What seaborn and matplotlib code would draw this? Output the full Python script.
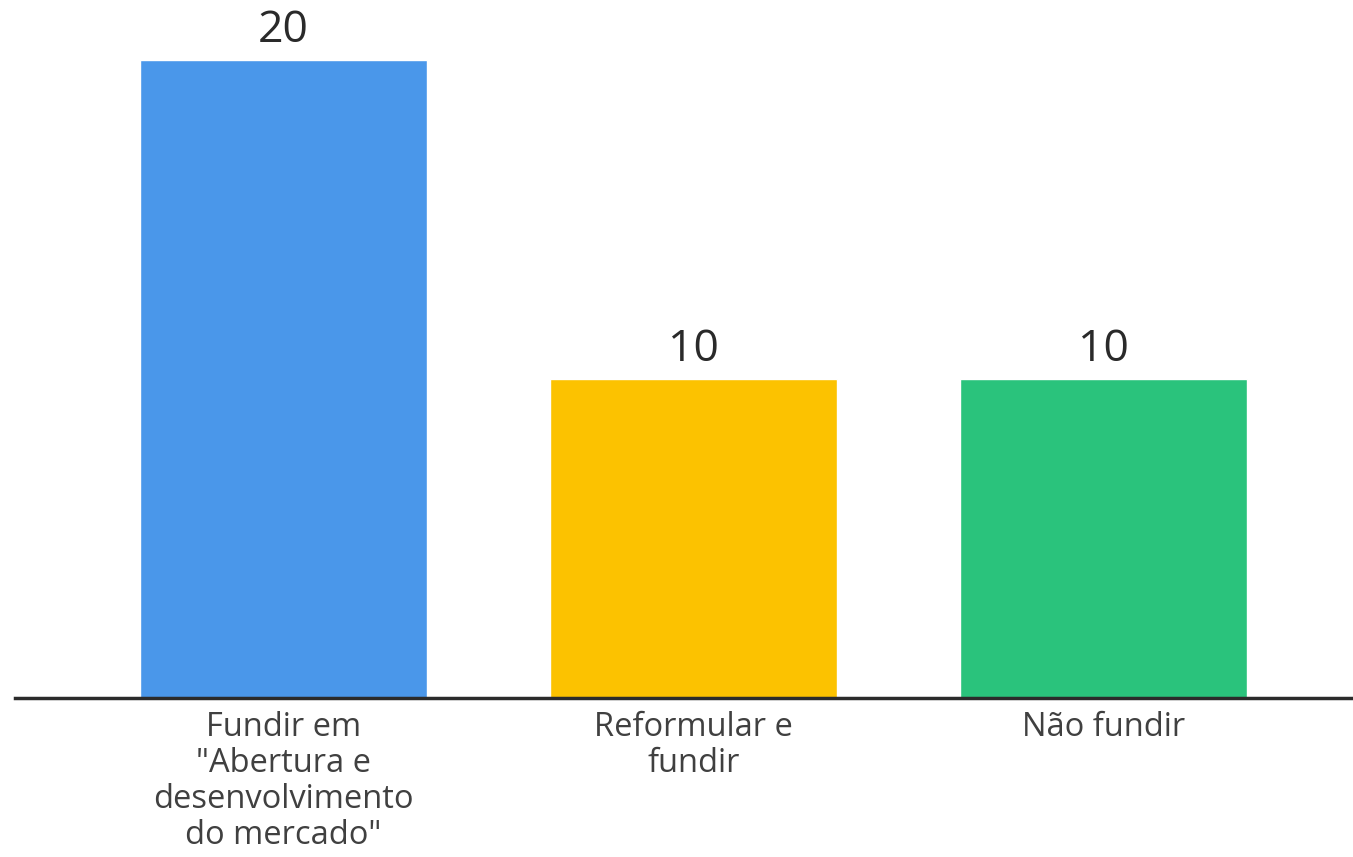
import matplotlib
matplotlib.use("Agg")
import matplotlib.pyplot as plt
import seaborn as sns
import pandas as pd

categories = ['Fundir em\n"Abertura e\ndesenvolvimento\ndo mercado"', 'Reformular e\nfundir', 'Não fundir']
values = [20, 10, 10]
colors = ['#4A97EA', '#FCC200', '#2AC37C']

sns.set_theme(style="white")
plt.rcParams['font.family'] = ['Open Sans', 'DejaVu Sans']

df = pd.DataFrame({"cat": categories, "val": values})

fig = plt.figure(figsize=(13.53, 8.57), dpi=100)
ax = fig.add_axes([15/1353, 159/857, 1 - 15/1353, 698/857])
sns.barplot(data=df, x="cat", y="val", hue="cat", palette=colors, width=0.7,
            saturation=1, legend=False, ax=ax)

ax.set_xlim(-0.655, 2.609)
ax.set_ylim(0, 21.88)
for s in ["top", "right", "left"]:
    ax.spines[s].set_visible(False)
ax.spines["bottom"].set_color("#2b2b2b")
ax.spines["bottom"].set_linewidth(2.5)
ax.set_yticks([])
ax.set_xlabel("")
ax.set_ylabel("")
ax.tick_params(axis="x", length=0, pad=9, labelsize=23.5, labelcolor="#404040")
for lbl in ax.get_xticklabels():
    lbl.set_linespacing(1.13)

for c in ax.containers:
    ax.bar_label(c, labels=[f"{v:.0f}" for v in c.datavalues], padding=5,
                 fontsize=32, color="#2a2a2a")

fig.savefig("out.png", dpi=100)
